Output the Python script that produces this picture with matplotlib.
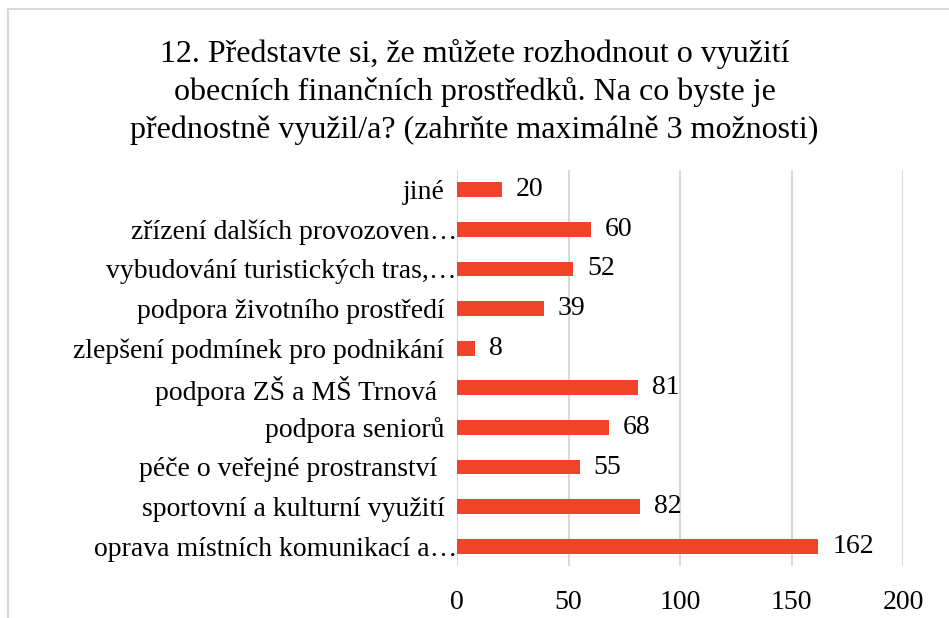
import matplotlib.pyplot as plt
from matplotlib.lines import Line2D
from matplotlib.transforms import ScaledTranslation

# categories from bottom to top as drawn
labels = [
    "oprava místních komunikací a…",
    "sportovní a kulturní využití",
    "péče o veřejné prostranství ",
    "podpora seniorů",
    "podpora ZŠ a MŠ Trnová ",
    "zlepšení podmínek pro podnikání",
    "podpora životního prostředí",
    "vybudování turistických tras,…",
    "zřízení dalších provozoven…",
    "jiné",
]
values = [162, 82, 55, 68, 81, 8, 39, 52, 60, 20]
xticks = [0, 50, 100, 150, 200]

plt.rcParams['font.family'] = ['Liberation Serif', 'DejaVu Serif']

fig = plt.figure(figsize=(9.49, 6.18), dpi=100)
ax = fig.add_axes([457 / 949, 1 - 566 / 618, 446 / 949, 396 / 618])

pos = range(len(labels))
ax.barh(pos, values, height=0.37, color='#F04428', zorder=3)
for p, v in zip(pos, values):
    ax.annotate(str(v), (v, p), xytext=(10, 0), textcoords='offset points',
                va='center', ha='left', fontsize=20)

ax.set_xlim(0, 200)
ax.set_ylim(-0.5, len(labels) - 0.5)
ax.set_xticks(xticks)
ax.set_yticks(list(pos))
ax.set_yticklabels(labels)
ax.tick_params(axis='both', length=0, labelsize=20)
ax.tick_params(axis='x', pad=17)
ax.tick_params(axis='y', pad=9)
ax.grid(axis='x', color='#D9D9D9', linewidth=1.5, zorder=0)
for s in ax.spines.values():
    s.set_visible(False)

# truncated labels sit closer to the axis
for t in ax.get_yticklabels():
    if t.get_text().endswith('…'):
        t.set_transform(t.get_transform() + ScaledTranslation(9 / 72, 0, fig.dpi_scale_trans))

fig.text(0.5, 1 - 92 / 618, "12. Představte si, že můžete rozhodnout o využití\n"
         "obecních finančních prostředků. Na co byste je\n"
         "přednostně využil/a? (zahrňte maximálně 3 možnosti)",
         ha='center', va='center', fontsize=23, linespacing=1.38)

# chart frame (top and left edges visible)
fig.add_artist(Line2D([8 / 949, 1], [1 - 9 / 618, 1 - 9 / 618], color='#D9D9D9', lw=1.5))
fig.add_artist(Line2D([8 / 949, 8 / 949], [0, 1 - 9 / 618], color='#D9D9D9', lw=1.5))

fig.savefig('out.png', dpi=100)
